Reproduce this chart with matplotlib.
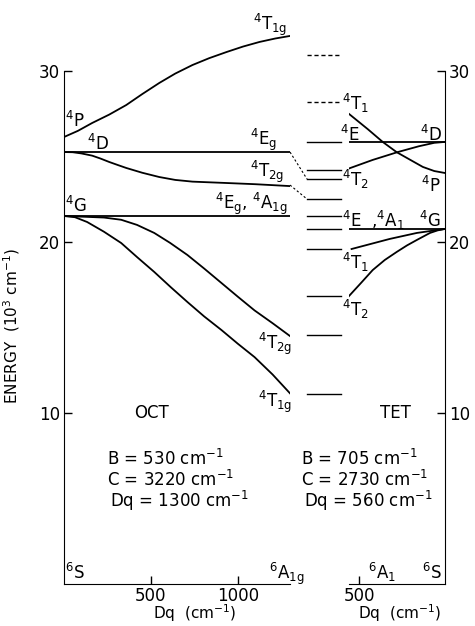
import matplotlib
matplotlib.use("Agg")
import matplotlib.pyplot as plt

plt.rcParams['font.family'] = ['DejaVu Sans']
plt.rcParams['mathtext.default'] = 'regular'

# octahedral panel: Dq (cm-1) vs energy (10^3 cm-1)
oct_4P_dq = [0, 80, 162, 260, 358, 450, 548, 640, 739, 835, 935, 1030, 1125, 1215, 1300]
oct_4P_e = [26.14, 26.50, 26.96, 27.45, 28.01, 28.65, 29.30, 29.85, 30.35, 30.75, 31.11,
            31.43, 31.70, 31.90, 32.05]
oct_4T2g_hi_dq = [0, 50, 100, 162, 210, 260, 310, 358, 450, 548, 640, 739, 935, 1100, 1300]
oct_4T2g_hi_e = [25.26, 25.25, 25.18, 25.05, 24.88, 24.68, 24.50, 24.33, 24.05, 23.80,
                 23.63, 23.53, 23.45, 23.38, 23.27]
oct_4T2g_lo_dq = [0, 133, 230, 329, 420, 519, 610, 710, 806, 906, 1000, 1096, 1200, 1300]
oct_4T2g_lo_e = [21.52, 21.47, 21.43, 21.30, 21.00, 20.53, 19.95, 19.24, 18.45, 17.60,
                 16.80, 16.00, 15.25, 14.50]
oct_4T1g_lo_dq = [0, 63, 133, 230, 329, 420, 519, 615, 710, 806, 906, 1000, 1096, 1200, 1300]
oct_4T1g_lo_e = [21.52, 21.45, 21.17, 20.60, 19.94, 19.12, 18.25, 17.35, 16.49, 15.65,
                 14.85, 14.05, 13.27, 12.25, 11.15]
oct_4D = 25.26
oct_4G = 21.52

# tetrahedral panel (Dq axis runs right to left)
tet_4T1_hi_dq = [560, 450, 362, 280, 200, 127, 60, 0]
tet_4T1_hi_e = [27.49, 26.60, 25.85, 25.25, 24.80, 24.39, 24.15, 24.04]
tet_4T2_hi_dq = [560, 421, 274, 150, 60, 0]
tet_4T2_hi_e = [24.30, 24.80, 25.26, 25.60, 25.80, 25.85]
tet_4T1_lo_dq = [545, 321, 162, 0]
tet_4T1_lo_e = [19.59, 20.18, 20.53, 20.76]
tet_4T2_lo_dq = [560, 490, 421, 350, 280, 220, 162, 85, 40, 0]
tet_4T2_lo_e = [16.84, 17.60, 18.36, 18.95, 19.42, 19.80, 20.12, 20.53, 20.68, 20.76]
tet_4D = 25.85
tet_4G = 20.76

# levels drawn between the panels
mid_levels = [30.94, 28.19, 25.85, 24.20, 23.68, 22.51, 21.52, 20.76, 19.59, 16.84, 14.56, 11.11]
mid_dashed = [True, True, False, False, False, False, False, False, False, False, False, False]
# dashed connectors: (oct end energy, mid level energy)
links = [(25.26, 23.68), (23.33, 22.51)]

fig = plt.figure(figsize=(4.75, 6.26), dpi=100)
W, H = 475.0, 626.0
ybot = (H - 584) / H
yh = (584 - 2.6) / H
ax1 = fig.add_axes([64 / W, ybot, 226 / W, yh])
axm = fig.add_axes([290 / W, ybot, 55 / W, yh])
ax2 = fig.add_axes([349 / W, ybot, 95.5 / W, yh])

lw = 1.3
fs = 12

# ---- OCT
ax1.plot(oct_4P_dq, oct_4P_e, color='k', lw=lw)
ax1.plot([0, 1300], [oct_4D, oct_4D], color='k', lw=lw)
ax1.plot(oct_4T2g_hi_dq, oct_4T2g_hi_e, color='k', lw=lw)
ax1.plot([0, 1300], [oct_4G, oct_4G], color='k', lw=lw)
ax1.plot(oct_4T2g_lo_dq, oct_4T2g_lo_e, color='k', lw=lw)
ax1.plot(oct_4T1g_lo_dq, oct_4T1g_lo_e, color='k', lw=lw)
ax1.set_xlim(0, 1300)
ax1.set_ylim(0, 34)
for s in ['top', 'right']:
    ax1.spines[s].set_visible(False)
ax1.spines['left'].set_bounds(0, 30)
ax1.set_yticks([10, 20, 30])
ax1.set_xticks([500, 1000])
ax1.tick_params(direction='in', length=6, width=1, labelsize=fs, pad=3)
ax1.tick_params(axis='x', pad=2)
ax1.set_ylabel('ENERGY  (10$^3$ cm$^{-1}$)', fontsize=11)
ax1.yaxis.set_label_coords(-0.185, 0.444)
ax1.set_xlabel('Dq  (cm$^{-1}$)', fontsize=11, va='bottom')
ax1.xaxis.set_label_coords(0.58, -0.0685)

ax1.text(1087, 32.4, '$^4$T$_{1g}$', fontsize=fs)
ax1.text(6, 26.7, '$^4$P', fontsize=fs)
ax1.text(132, 25.4, '$^4$D', fontsize=fs)
ax1.text(1070, 25.7, '$^4$E$_g$', fontsize=fs)
ax1.text(1070, 23.8, '$^4$T$_{2g}$', fontsize=fs)
ax1.text(869, 21.95, '$^4$E$_g$, $^4$A$_{1g}$', fontsize=fs)
ax1.text(6, 21.75, '$^4$G', fontsize=fs)
ax1.text(1116, 13.75, '$^4$T$_{2g}$', fontsize=fs)
ax1.text(1116, 10.35, '$^4$T$_{1g}$', fontsize=fs)
ax1.text(6, 0.3, '$^6$S', fontsize=fs)
ax1.text(1180, 0.3, '$^6$A$_{1g}$', fontsize=fs)
ax1.text(506, 10.0, 'OCT', fontsize=fs, ha='center', va='center')
ax1.text(250, 7.3, 'B = 530 cm$^{-1}$', fontsize=fs, va='center')
ax1.text(250, 6.1, 'C = 3220 cm$^{-1}$', fontsize=fs, va='center')
ax1.text(262, 4.85, 'Dq = 1300 cm$^{-1}$', fontsize=fs, va='center')

# ---- middle levels
for e, d in zip(mid_levels, mid_dashed):
    axm.plot([0.31, 0.93], [e, e], color='k', lw=1.0, ls=(0, (3, 2)) if d else '-')
for e0, e1 in links:
    axm.plot([0, 0.31], [e0, e1], color='k', lw=0.8, ls=(0, (2, 2)))
axm.set_xlim(0, 1)
axm.set_ylim(0, 34)
axm.axis('off')

# ---- TET
ax2.plot(tet_4T1_hi_dq, tet_4T1_hi_e, color='k', lw=lw)
ax2.plot(tet_4T2_hi_dq, tet_4T2_hi_e, color='k', lw=lw)
ax2.plot([560, 0], [tet_4D, tet_4D], color='k', lw=lw)
ax2.plot([560, 0], [tet_4G, tet_4G], color='k', lw=lw)
ax2.plot(tet_4T1_lo_dq, tet_4T1_lo_e, color='k', lw=lw)
ax2.plot(tet_4T2_lo_dq, tet_4T2_lo_e, color='k', lw=lw)
ax2.set_xlim(560, 0)
ax2.set_ylim(0, 34)
for s in ['top', 'left']:
    ax2.spines[s].set_visible(False)
ax2.spines['right'].set_bounds(0, 30)
ax2.yaxis.tick_right()
ax2.set_yticks([10, 20, 30])
ax2.set_xticks([500])
ax2.tick_params(direction='in', length=6, width=1, labelsize=fs, pad=3)
ax2.tick_params(axis='x', pad=2)
ax2.set_xlabel('Dq  (cm$^{-1}$)', fontsize=11, va='bottom')
ax2.xaxis.set_label_coords(0.534, -0.0685)

ax2.text(600, 27.7, '$^4$T$_1$', fontsize=fs, clip_on=False)
ax2.text(612, 25.9, '$^4$E', fontsize=fs, clip_on=False)
ax2.text(15, 25.9, '$^4$D', fontsize=fs, ha='right')
ax2.text(600, 23.3, '$^4$T$_2$', fontsize=fs, clip_on=False)
ax2.text(25, 22.9, '$^4$P', fontsize=fs, ha='right')
ax2.text(600, 20.9, '$^4$E  ,$^4$A$_1$', fontsize=fs, clip_on=False)
ax2.text(25, 20.9, '$^4$G', fontsize=fs, ha='right')
ax2.text(600, 18.4, '$^4$T$_1$', fontsize=fs, clip_on=False)
ax2.text(600, 15.7, '$^4$T$_2$', fontsize=fs, clip_on=False)
ax2.text(285, 10.0, 'TET', fontsize=fs, ha='center', va='center')
ax2.text(840, 7.3, 'B = 705 cm$^{-1}$', fontsize=fs, va='center')
ax2.text(840, 6.1, 'C = 2730 cm$^{-1}$', fontsize=fs, va='center')
ax2.text(822, 4.85, 'Dq = 560 cm$^{-1}$', fontsize=fs, va='center')
ax2.text(450, 0.3, '$^6$A$_1$', fontsize=fs)
ax2.text(15, 0.3, '$^6$S', fontsize=fs, ha='right')

fig.savefig('out.png', dpi=100)
